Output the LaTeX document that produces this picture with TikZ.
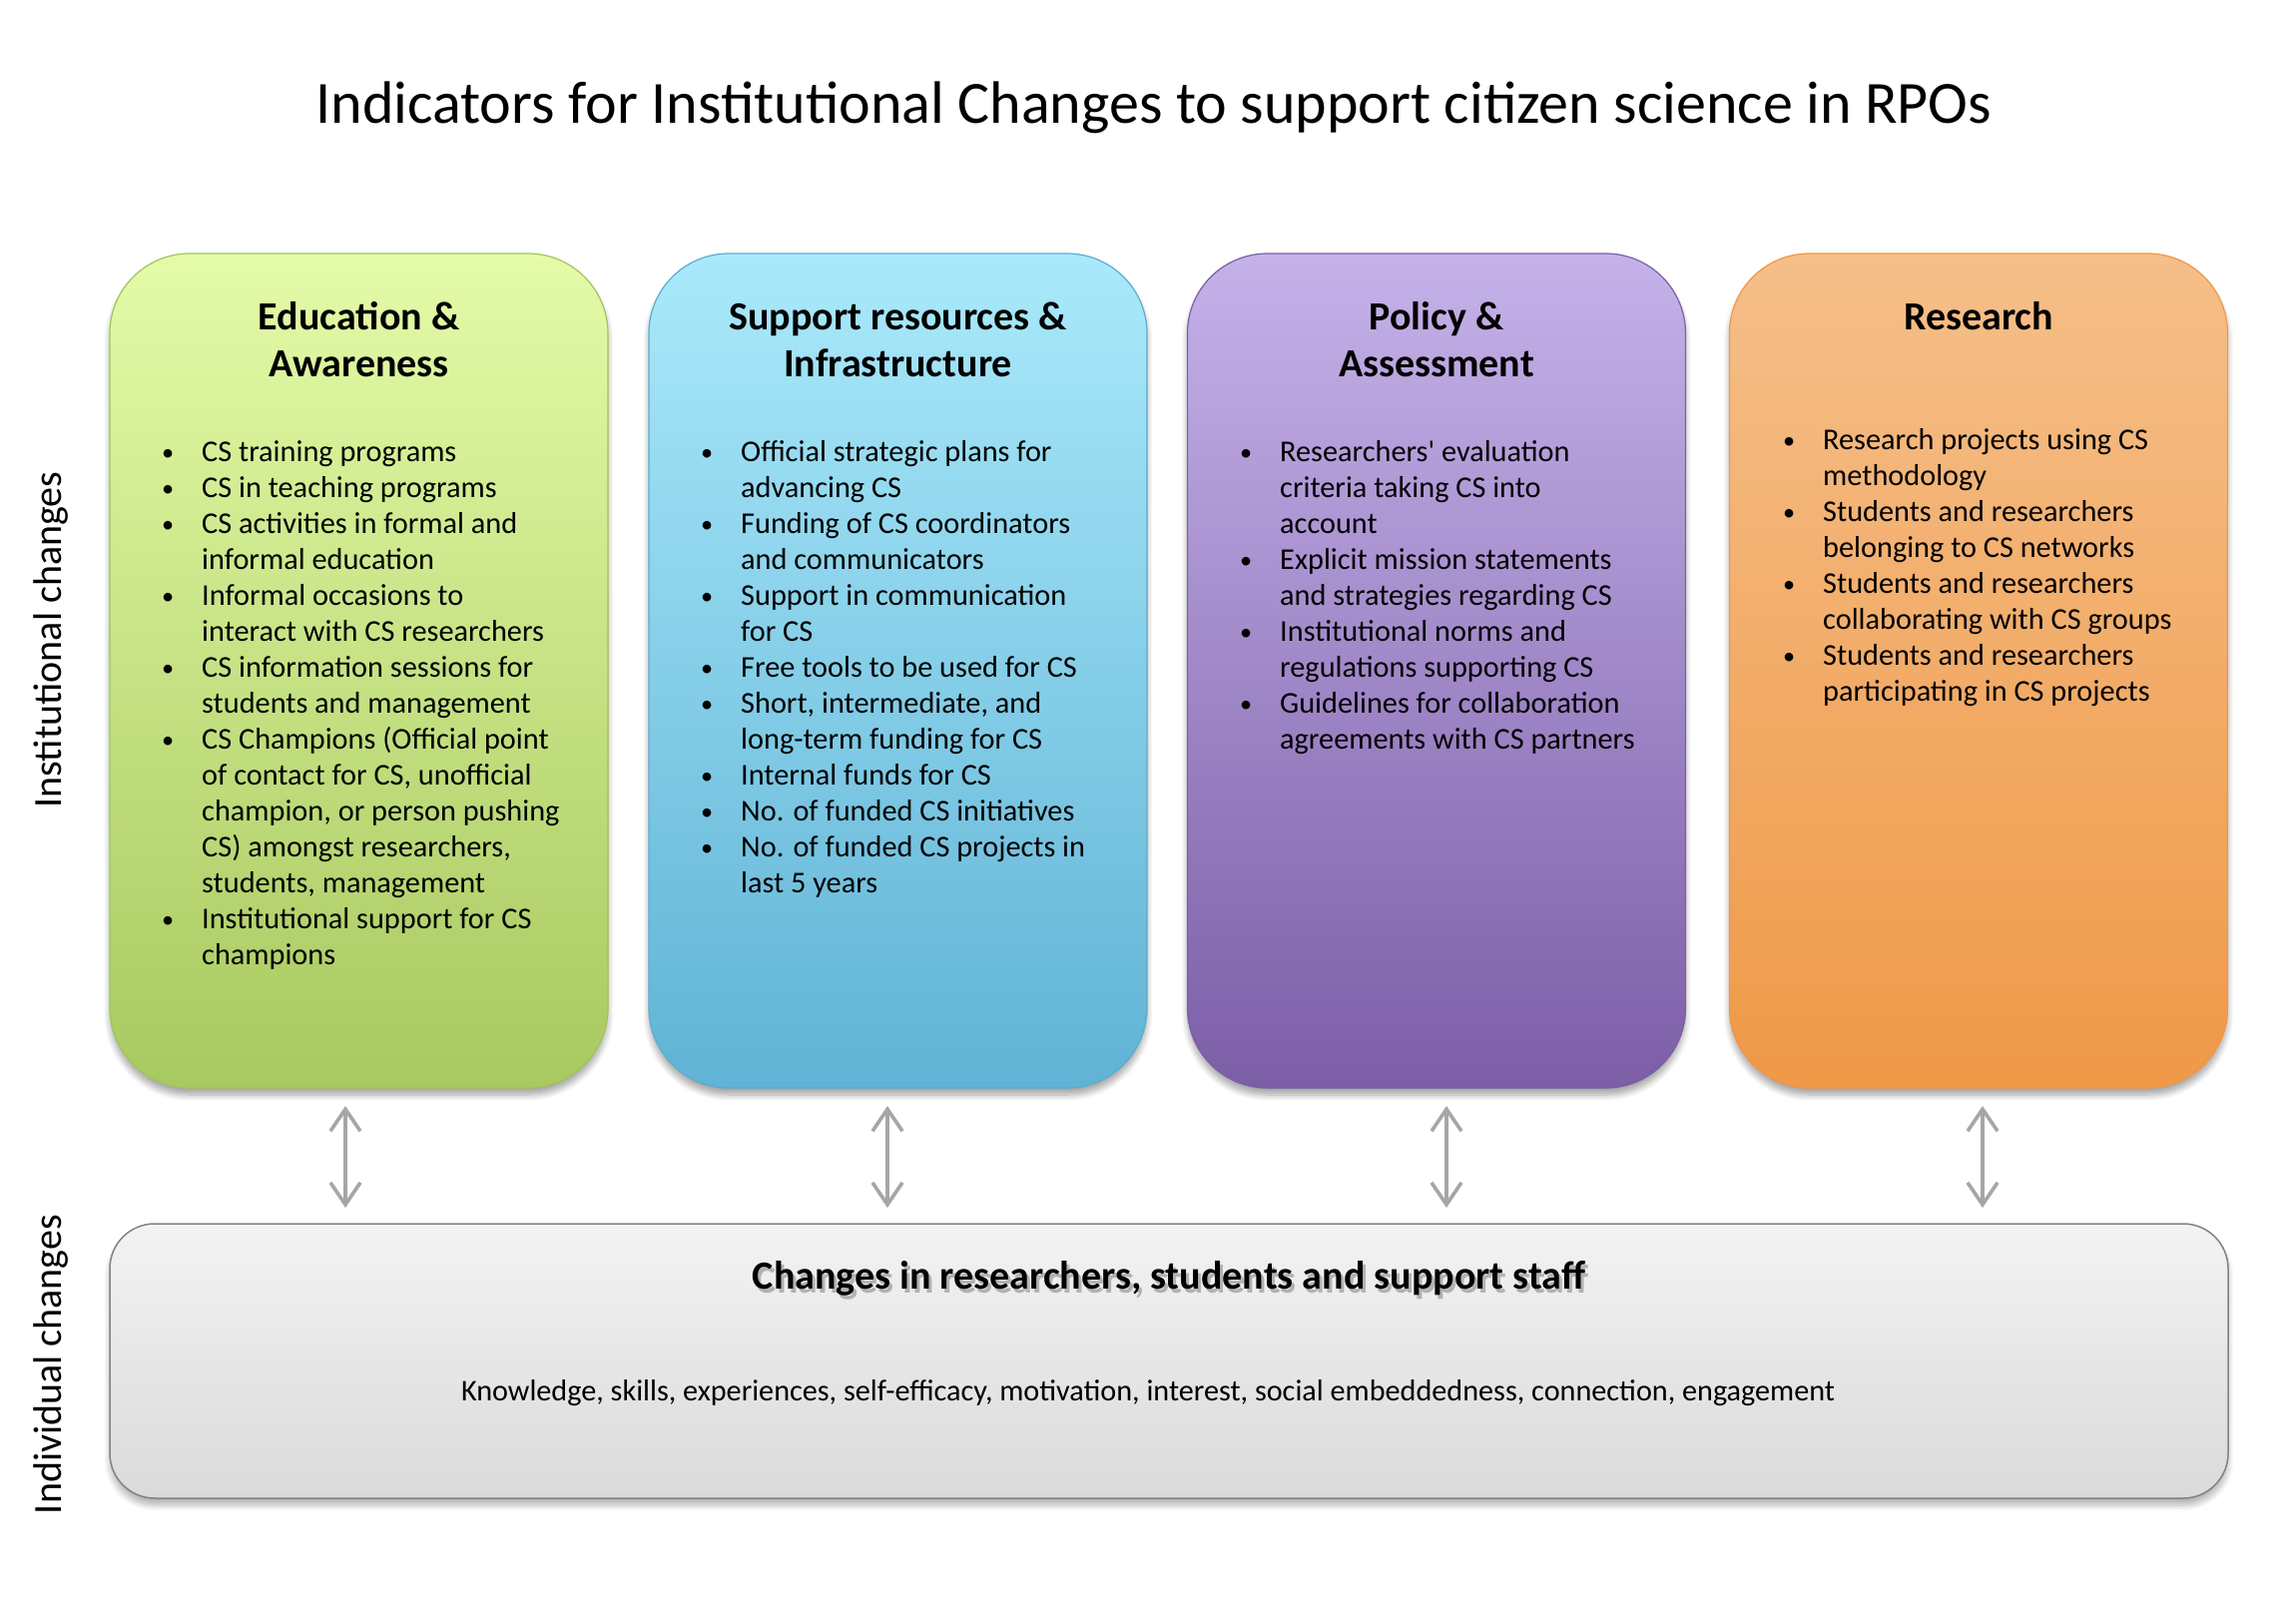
\documentclass[tikz,border=0pt]{standalone}
\usepackage{fontspec}
\setmainfont{Carlito}
\usetikzlibrary{arrows.meta,shadows.blur}
\definecolor{gTop}{RGB}{228,251,168}
\definecolor{gBot}{RGB}{168,201,96}
\definecolor{gLine}{RGB}{160,196,90}
\definecolor{bTop}{RGB}{170,233,251}
\definecolor{bBot}{RGB}{96,179,213}
\definecolor{bLine}{RGB}{90,172,205}
\definecolor{pTop}{RGB}{197,178,233}
\definecolor{pBot}{RGB}{124,94,167}
\definecolor{pLine}{RGB}{120,96,160}
\definecolor{oTop}{RGB}{245,191,137}
\definecolor{oBot}{RGB}{239,153,72}
\definecolor{oLine}{RGB}{240,150,70}
\definecolor{wTop}{RGB}{243,243,243}
\definecolor{wBot}{RGB}{218,218,218}
\definecolor{wLine}{RGB}{130,130,130}
\definecolor{arrowgray}{RGB}{166,166,166}
\begin{document}
\begin{tikzpicture}[x=1pt,y=-1pt,
  card/.style={draw, line width=1.2pt, rounded corners=80pt, minimum width=499pt,
    minimum height=836pt, inner sep=0pt,
    blur shadow={shadow xshift=0pt, shadow yshift=-7pt, shadow blur radius=6pt, shadow blur steps=8, shadow opacity=35}},
  head/.style={font=\fontsize{40}{47}\selectfont\bfseries, align=center, anchor=north, inner sep=0pt},
  items/.style={font=\fontsize{30.3}{36}\selectfont, align=left, anchor=north west, inner sep=0pt},
  side/.style={font=\fontsize{40}{46}\selectfont, rotate=90, inner sep=0pt},
  link/.style={draw=arrowgray, line width=3.6pt,
    {Straight Barb[length=22pt,width=30pt]}-{Straight Barb[length=22pt,width=30pt]}},
]
\newcommand{\bul}{\llap{\raisebox{1.5pt}{\scalebox{0.8}{\textbullet}}\hspace{28pt}}}
\useasboundingbox (0,0) rectangle (2300,1610);

\node[anchor=base, font=\fontsize{60}{68}\selectfont, inner sep=0pt] (title) at (1156,123)
  {Indicators for Institutional Changes to support citizen science in RPOs};

\node[side] (inst) at (51,641) {Institutional changes};
\node[side] (indiv) at (51,1367) {Individual changes};

% cards
\node[card, draw=gLine, top color=gTop, bottom color=gBot] (b1) at (359.5,672) {};
\node[card, draw=bLine, top color=bTop, bottom color=bBot] (b2) at (899.5,672) {};
\node[card, draw=pLine, top color=pTop, bottom color=pBot] (b3) at (1439,672) {};
\node[card, draw=oLine, top color=oTop, bottom color=oBot] (b4) at (1982,672) {};

\node[head] (h1) at (359.5,297) {\strut Education \&\\Awareness};
\node[head] (h2) at (899.5,297) {\strut Support resources \&\\Infrastructure};
\node[head] (h3) at (1439,297) {\strut Policy \&\\Assessment};
\node[head] (h4) at (1982,297) {\strut Research};

\node[items] (l1) at (202,437.5) {\strut\bul CS training programs\\
\bul CS in teaching programs\\
\bul CS activities in formal and\\
informal education\\
\bul Informal occasions to\\
interact with CS researchers\\
\bul CS information sessions for\\
students and management\\
\bul CS Champions (Official point\\
of contact for CS, unofficial\\
champion, or person pushing\\
CS) amongst researchers,\\
students, management\\
\bul Institutional support for CS\\
champions};

\node[items] (l2) at (742,437.5) {\strut\bul Official strategic plans for\\
advancing CS\\
\bul Funding of CS coordinators\\
and communicators\\
\bul Support in communication\\
for CS\\
\bul Free tools to be used for CS\\
\bul Short, intermediate, and\\
long-term funding for CS\\
\bul Internal funds for CS\\
\bul No. of funded CS initiatives\\
\bul No. of funded CS projects in\\
last 5 years};

\node[items] (l3) at (1282,437.5) {\strut\bul Researchers\textquotesingle{} evaluation\\
criteria taking CS into\\
account\\
\bul Explicit mission statements\\
and strategies regarding CS\\
\bul Institutional norms and\\
regulations supporting CS\\
\bul Guidelines for collaboration\\
agreements with CS partners};

\node[items] (l4) at (1826,425.5) {\strut\bul Research projects using CS\\
methodology\\
\bul Students and researchers\\
belonging to CS networks\\
\bul Students and researchers\\
collaborating with CS groups\\
\bul Students and researchers\\
participating in CS projects};

% bottom box
\node[draw=wLine, line width=1.5pt, rounded corners=45pt, minimum width=2122pt, minimum height=275pt,
  top color=wTop, bottom color=wBot, inner sep=0pt,
  blur shadow={shadow xshift=0pt, shadow yshift=-7pt, shadow blur radius=6pt, shadow blur steps=8, shadow opacity=30}]
  (ind) at (1171,1363.5) {};
\node[anchor=base, font=\fontsize{40}{46}\selectfont\bfseries, text=black!45, opacity=0.6, inner sep=0pt]
  (indhs) at (1174,1295) {Changes in researchers, students and support staff};
\node[anchor=base, font=\fontsize{40}{46}\selectfont\bfseries, inner sep=0pt]
  (indh) at (1171,1291) {Changes in researchers, students and support staff};
\node[anchor=base, font=\fontsize{30.2}{36}\selectfont, inner sep=0pt] (indt) at (1150,1403)
  {Knowledge, skills, experiences, self-efficacy, motivation, interest, social embeddedness, connection, engagement};

% arrows
\coordinate (t1) at (346,1108); \coordinate (u1) at (346,1210);
\coordinate (t2) at (889,1108); \coordinate (u2) at (889,1210);
\coordinate (t3) at (1449,1108); \coordinate (u3) at (1449,1210);
\coordinate (t4) at (1986,1108); \coordinate (u4) at (1986,1210);
\draw[link] (t1) -- (u1);
\draw[link] (t2) -- (u2);
\draw[link] (t3) -- (u3);
\draw[link] (t4) -- (u4);
\end{tikzpicture}
\end{document}
